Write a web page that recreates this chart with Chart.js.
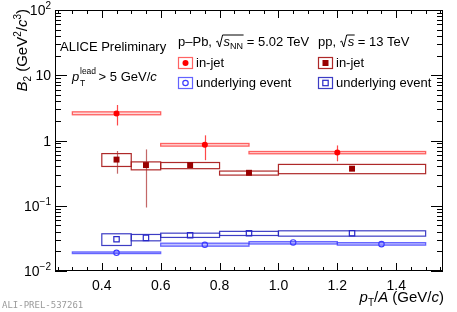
<!DOCTYPE html>
<html>
<head>
<meta charset="utf-8">
<script src="https://cdn.jsdelivr.net/npm/chart.js@4"></script>
<style>
  html, body { margin: 0; padding: 0; background: #fff; }
  canvas { display: block; }
</style>
</head>
<body>
<canvas id="b2" width="457" height="312"></canvas>
<script>
// p-Pb, in-jet
const pPbJetX = [0.45, 0.75, 1.2];
const pPbJetLo = [0.3, 0.6, 0.9];
const pPbJetHi = [0.6, 0.9, 1.5];
const pPbJetY = [2.6, 0.86, 0.655];
const pPbJetStatLo = [1.7, 0.5, 0.48];
const pPbJetStatHi = [3.5, 1.2, 0.84];
const pPbJetSysLo = [2.48, 0.82, 0.626];
const pPbJetSysHi = [2.75, 0.9, 0.678];

// pp, in-jet
const ppJetX = [0.45, 0.55, 0.7, 0.9, 1.25];
const ppJetLo = [0.4, 0.5, 0.6, 0.8, 1.0];
const ppJetHi = [0.5, 0.6, 0.8, 1.0, 1.5];
const ppJetY = [0.51, 0.42, 0.42, 0.32, 0.37];
const ppJetStatLo = [0.31, 0.094, 0.4, 0.31, 0.36];
const ppJetStatHi = [0.69, 0.73, 0.44, 0.33, 0.38];
const ppJetSysLo = [0.4, 0.355, 0.37, 0.295, 0.31];
const ppJetSysHi = [0.63, 0.47, 0.46, 0.34, 0.43];

// p-Pb, underlying event
const pPbUeX = [0.45, 0.75, 1.05, 1.35];
const pPbUeLo = [0.3, 0.6, 0.9, 1.2];
const pPbUeHi = [0.6, 0.9, 1.2, 1.5];
const pPbUeY = [0.019, 0.0252, 0.0274, 0.0258];
const pPbUeSysLo = [0.0185, 0.024, 0.0259, 0.0249];
const pPbUeSysHi = [0.0196, 0.0267, 0.0282, 0.0272];

// pp, underlying event
const ppUeX = [0.45, 0.55, 0.7, 0.9, 1.25];
const ppUeLo = [0.4, 0.5, 0.6, 0.8, 1.0];
const ppUeHi = [0.5, 0.6, 0.8, 1.0, 1.5];
const ppUeY = [0.0307, 0.0322, 0.0354, 0.038, 0.038];
const ppUeSysLo = [0.0246, 0.029, 0.0327, 0.035, 0.0342];
const ppUeSysHi = [0.0372, 0.0363, 0.038, 0.0405, 0.0413];

const xTicks = [0.4, 0.6, 0.8, 1.0, 1.2, 1.4];
const xTickLabels = ["0.4", "0.6", "0.8", "1.0", "1.2", "1.4"];
const yTicks = [0.01, 0.1, 1, 10, 100];
const yTickLabels = [["10", "\u22122"], ["10", "\u22121"], ["1", ""], ["10", ""], ["10", "2"]];

const FONT = '"Liberation Sans", Arial, Helvetica, sans-serif';

const RED = "#ff0000";
const DARKRED = "#990000";
const BLUE = "#3c3cff";
const DARKBLUE = "#2828c8";

function pts(xs, ys) {
  return xs.map((x, i) => ({ x: x, y: ys[i] }));
}

function setFont(ctx, size, italic) {
  ctx.font = (italic ? "italic " : "") + size + "px " + FONT;
}

// parts: [text, size, italic, dy]
function rich(ctx, parts, x, y, align) {
  let w = 0;
  const ws = parts.map(p => {
    setFont(ctx, p[1], p[2]);
    const m = ctx.measureText(p[0]).width;
    w += m;
    return m;
  });
  let cx = align === "right" ? x - w : align === "center" ? x - w / 2 : x;
  ctx.textAlign = "left";
  parts.forEach((p, i) => {
    setFont(ctx, p[1], p[2]);
    ctx.fillText(p[0], cx, y + (p[3] || 0));
    cx += ws[i];
  });
  return cx;
}

function boxes(chart, xlo, xhi, ylo, yhi, fill, stroke, lw) {
  const ctx = chart.ctx, sx = chart.scales.x, sy = chart.scales.y;
  ctx.save();
  ctx.lineWidth = lw;
  xlo.forEach((lo, i) => {
    const x0 = sx.getPixelForValue(lo), x1 = sx.getPixelForValue(xhi[i]);
    const y0 = sy.getPixelForValue(yhi[i]), y1 = sy.getPixelForValue(ylo[i]);
    if (fill) {
      ctx.fillStyle = fill;
      ctx.fillRect(x0, y0, x1 - x0, y1 - y0);
    }
    ctx.strokeStyle = stroke;
    ctx.strokeRect(x0, y0, x1 - x0, y1 - y0);
  });
  ctx.restore();
}

function statBars(chart, xs, lo, hi, color) {
  const ctx = chart.ctx, sx = chart.scales.x, sy = chart.scales.y;
  ctx.save();
  ctx.strokeStyle = color;
  ctx.lineWidth = 1.2;
  xs.forEach((x, i) => {
    const px = Math.round(sx.getPixelForValue(x)) + 0.5;
    ctx.beginPath();
    ctx.moveTo(px, sy.getPixelForValue(lo[i]));
    ctx.lineTo(px, sy.getPixelForValue(hi[i]));
    ctx.stroke();
  });
  ctx.restore();
}

const errorPlugin = {
  id: "errors",
  beforeDatasetsDraw(chart) {
    boxes(chart, pPbUeLo, pPbUeHi, pPbUeSysLo, pPbUeSysHi, "rgba(60,60,255,0.3)", "rgba(60,60,255,0.75)", 1.3);
    boxes(chart, ppUeLo, ppUeHi, ppUeSysLo, ppUeSysHi, null, "rgba(40,40,190,0.9)", 1.2);
    boxes(chart, pPbJetLo, pPbJetHi, pPbJetSysLo, pPbJetSysHi, "rgba(255,0,0,0.15)", "rgba(255,50,50,0.75)", 1.3);
    boxes(chart, ppJetLo, ppJetHi, ppJetSysLo, ppJetSysHi, null, "rgba(170,30,30,0.95)", 1.2);
    statBars(chart, pPbJetX, pPbJetStatLo, pPbJetStatHi, "rgba(255,40,40,0.85)");
    statBars(chart, ppJetX, ppJetStatLo, ppJetStatHi, "rgba(170,40,40,0.7)");
  }
};

function drawMarker(ctx, kind, x, y) {
  ctx.save();
  ctx.lineWidth = 1.2;
  if (kind === "pPbJet") {
    ctx.fillStyle = RED;
    ctx.beginPath(); ctx.arc(x, y, 3, 0, Math.PI * 2); ctx.fill();
  } else if (kind === "ppJet") {
    ctx.fillStyle = DARKRED;
    ctx.fillRect(x - 3, y - 3, 6, 6);
  } else if (kind === "pPbUe") {
    ctx.strokeStyle = BLUE;
    ctx.beginPath(); ctx.arc(x, y, 2.7, 0, Math.PI * 2); ctx.stroke();
  } else {
    ctx.strokeStyle = DARKBLUE;
    ctx.strokeRect(x - 2.7, y - 2.7, 5.4, 5.4);
  }
  ctx.restore();
}

const decorPlugin = {
  id: "decor",
  afterDraw(chart) {
    const ctx = chart.ctx, a = chart.chartArea, sx = chart.scales.x, sy = chart.scales.y;
    ctx.save();
    ctx.fillStyle = "#000";
    ctx.strokeStyle = "#000";
    ctx.lineWidth = 1;

    // frame
    ctx.strokeRect(a.left + 0.5, a.top + 0.5, a.right - a.left - 1, a.bottom - a.top - 1);

    // x ticks
    ctx.beginPath();
    for (let k = 5; k <= 31; k++) {
      const v = k * 0.05;
      const px = Math.round(sx.getPixelForValue(v)) + 0.5;
      if (px <= a.left + 1 || px >= a.right - 1) continue;
      const major = k % 4 === 0;
      const len = major ? 8 : 4;
      ctx.moveTo(px, a.bottom); ctx.lineTo(px, a.bottom - len);
      ctx.moveTo(px, a.top); ctx.lineTo(px, a.top + len);
    }
    // y ticks (log)
    for (let d = -2; d <= 1; d++) {
      for (let m = 1; m <= 10; m++) {
        const v = m * Math.pow(10, d);
        const py = Math.round(sy.getPixelForValue(v)) + 0.5;
        const major = m === 1 || m === 10;
        const len = major ? 12 : 6;
        ctx.moveTo(a.left, py); ctx.lineTo(a.left + len, py);
        ctx.moveTo(a.right, py); ctx.lineTo(a.right - len, py);
      }
    }
    ctx.stroke();

    // x tick labels
    ctx.textBaseline = "alphabetic";
    setFont(ctx, 14, false);
    ctx.textAlign = "center";
    xTicks.forEach((v, i) => {
      ctx.fillText(xTickLabels[i], sx.getPixelForValue(v), 290);
    });

    // y tick labels
    yTicks.forEach((v, i) => {
      const py = sy.getPixelForValue(v);
      const lab = yTickLabels[i];
      const parts = [[lab[0], 14, false, 0]];
      if (lab[1]) parts.push([lab[1], 10, false, -6]);
      rich(ctx, parts, 51, py + 5, "right");
    });

    // x title
    rich(ctx, [["p", 15, true, 0], ["T", 10, false, 4], ["/", 15, false, 0], ["A", 15, true, 0],
      [" (GeV/", 15, false, 0], ["c", 15, true, 0], [")", 15, false, 0]], 444, 302, "right");

    // y title
    ctx.save();
    ctx.translate(27, 9);
    ctx.rotate(-Math.PI / 2);
    rich(ctx, [["B", 15, true, 0], ["2", 10, false, 4], [" (GeV", 15, false, 0], ["2", 10, false, -6],
      ["/", 15, false, 0], ["c", 15, true, 0], ["3", 10, false, -6], [")", 15, false, 0]], 0, 0, "right");
    ctx.restore();

    // ALICE Preliminary
    rich(ctx, [["ALICE Preliminary", 13, false, 0]], 60, 51, "left");

    // p_T^lead > 5 GeV/c
    setFont(ctx, 13, true);
    ctx.textAlign = "left";
    ctx.fillText("p", 72, 81);
    setFont(ctx, 8.5, false);
    ctx.fillText("lead", 80, 74);
    ctx.fillText("T", 80, 86);
    rich(ctx, [[" > 5 GeV/", 13, false, 0], ["c", 13, true, 0]], 95, 81, "left");

    // legend headers
    const drawHeader = (x, y, pre, sub, post) => {
      let cx = rich(ctx, [[pre, 13, false, 0]], x, y, "left");
      const r0 = cx;
      cx += 8;
      const end = rich(ctx, [["s", 13, true, 0]].concat(sub ? [[sub, 9, false, 3]] : []), cx, y, "left");
      ctx.beginPath();
      ctx.lineWidth = 1;
      ctx.moveTo(r0 + 0.5, y - 4);
      ctx.lineTo(r0 + 2, y - 5);
      ctx.lineTo(r0 + 4, y + 1);
      ctx.lineTo(r0 + 7, y - 11);
      ctx.lineTo(end + 0.5, y - 11);
      ctx.stroke();
      rich(ctx, [[post, 13, false, 0]], end, y, "left");
    };
    drawHeader(178, 46, "p\u2013Pb, ", "NN", " = 5.02 TeV");
    drawHeader(318, 46, "pp, ", "", " = 13 TeV");

    // legend entries
    const entries = [
      [178, 57, "pPbJet", "rgba(255,60,60,0.8)", "in-jet"],
      [178, 77, "pPbUe", "rgba(60,60,255,0.8)", "underlying event"],
      [318, 57, "ppJet", "rgba(170,30,30,0.95)", "in-jet"],
      [318, 77, "ppUe", "rgba(40,40,190,0.9)", "underlying event"]
    ];
    entries.forEach(e => {
      ctx.save();
      ctx.lineWidth = 1.2;
      ctx.strokeStyle = e[3];
      ctx.strokeRect(e[0] + 0.5, e[1] + 0.5, 14, 11);
      ctx.restore();
      drawMarker(ctx, e[2], e[0] + 7.5, e[1] + 6);
      ctx.fillStyle = "#000";
      rich(ctx, [[e[4], 13, false, 0]], e[0] + 18, e[1] + 10, "left");
    });

    // watermark
    ctx.fillStyle = "#9a9a9a";
    ctx.font = '9px "DejaVu Sans Mono", monospace';
    ctx.textAlign = "left";
    ctx.fillText("ALI-PREL-537261", 2, 308);
    ctx.restore();
  }
};

const data = {
  datasets: [
    {
      label: "p-Pb in-jet",
      data: pts(pPbJetX, pPbJetY),
      pointStyle: "circle",
      pointRadius: 3,
      backgroundColor: RED,
      borderColor: RED,
      borderWidth: 0,
    },
    {
      label: "pp in-jet",
      data: pts(ppJetX, ppJetY),
      pointStyle: "rect",
      pointRadius: 4.2,
      backgroundColor: DARKRED,
      borderColor: DARKRED,
      borderWidth: 0,
    },
    {
      label: "p-Pb underlying event",
      data: pts(pPbUeX, pPbUeY),
      pointStyle: "circle",
      pointRadius: 2.7,
      backgroundColor: "rgba(0,0,0,0)",
      borderColor: BLUE,
      borderWidth: 1.2,
    },
    {
      label: "pp underlying event",
      data: pts(ppUeX, ppUeY),
      pointStyle: "rect",
      pointRadius: 3.8,
      backgroundColor: "rgba(0,0,0,0)",
      borderColor: DARKBLUE,
      borderWidth: 1.2,
    },
  ],
};

const config = {
  type: "scatter",
  data: data,
  options: {
    responsive: false,
    animation: false,
    devicePixelRatio: 1,
    layout: { padding: { left: 55, right: 14, top: 10, bottom: 41 } },
    plugins: { legend: { display: false }, tooltip: { enabled: false } },
    scales: {
      x: { type: "linear", min: 0.241, max: 1.559, display: false },
      y: { type: "logarithmic", min: 0.01, max: 100, display: false },
    },
  },
  plugins: [errorPlugin, decorPlugin],
};

const ctx = document.getElementById("b2").getContext("2d");
const b2Chart = new Chart(ctx, config);
</script>
</body>
</html>
